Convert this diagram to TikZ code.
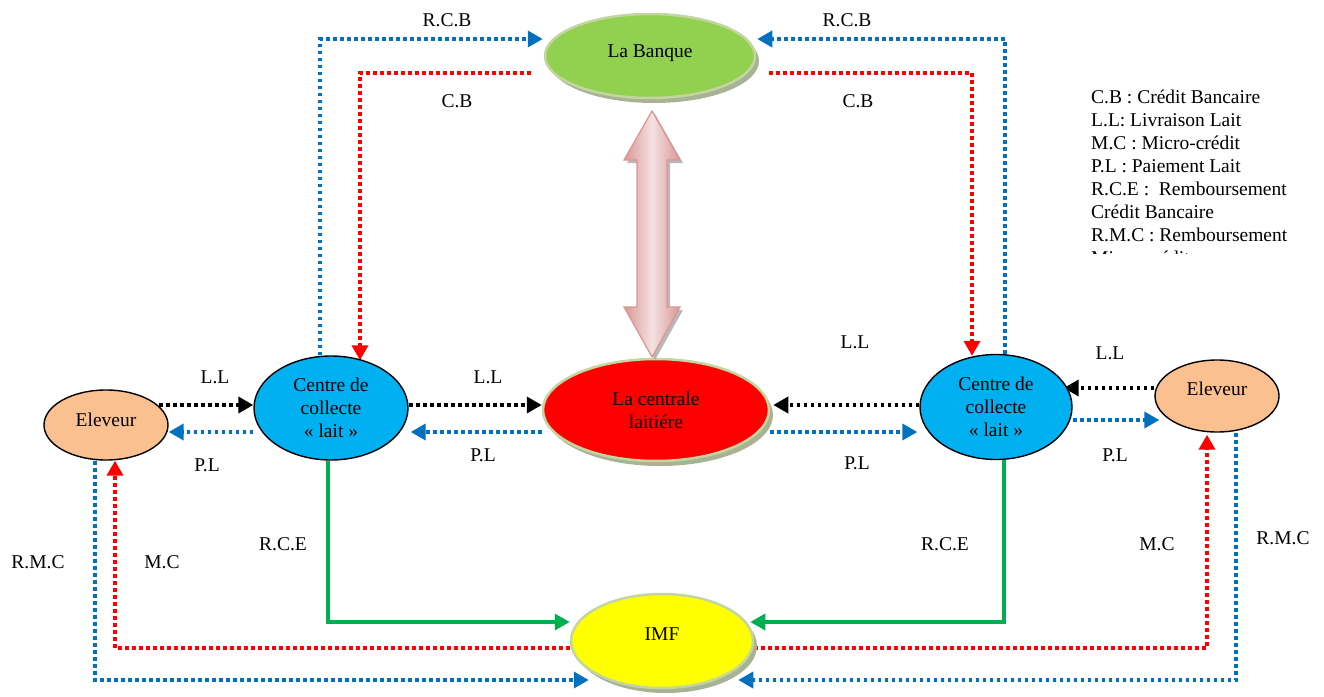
\documentclass[tikz,border=0pt]{standalone}
\usepackage{fontspec}
\setmainfont{Liberation Serif}
\usetikzlibrary{arrows.meta,shapes.geometric,calc,shadows}

\definecolor{flowBlue}{HTML}{0070C0}
\definecolor{flowRed}{HTML}{FF0000}
\definecolor{flowGreen}{HTML}{00B050}
\definecolor{cyanFill}{HTML}{00B0F0}
\definecolor{peachFill}{HTML}{FAC090}
\definecolor{leafFill}{HTML}{92D050}
\definecolor{yellowFill}{HTML}{FFFF00}
\definecolor{rimGreen}{HTML}{C4D6A0}
\definecolor{shadowOlive}{HTML}{A7B394}
\definecolor{pinkDark}{HTML}{D99694}
\definecolor{pinkLight}{HTML}{F4E2E1}

\pgfdeclarelayer{background}
\pgfsetlayers{background,main}

\tikzset{
  txt/.style={font=\fontsize{19.5}{23}\selectfont, inner sep=0pt},
  hub/.style={ellipse, txt, fill=#1, draw=rimGreen, line width=2.5pt,
    drop shadow={shadow xshift=4pt, shadow yshift=-5pt, fill=shadowOlive, opacity=1}},
  actor/.style={ellipse, txt, fill=#1, draw=black, line width=1.4pt, align=center},
  tip/.style={-{Triangle[length=15pt,width=16pt]}},
  dotflow/.style={tip, line width=3.6pt, dash pattern=on 3.8pt off 3.2pt, draw=#1, #1},
  solidflow/.style={tip, line width=3.4pt, draw=#1, #1},
  lbl/.style={txt},
  legline/.style={txt, anchor=base west}
}

\begin{document}
\begin{tikzpicture}[x=1pt, y=-1pt]
  \useasboundingbox (0,0) rectangle (1324,696);

  % ---- nodes ----
  \node[hub=leafFill, minimum width=210pt, minimum height=84pt, text depth=10pt] (bank) at (650,56) {La Banque};
  \node[hub=flowRed, minimum width=226pt, minimum height=102pt, align=center] (cl) at (656,410) {La centrale\\laitiére};
  \node[hub=yellowFill, minimum width=182pt, minimum height=94pt, text depth=14pt] (imf) at (662,641) {IMF};

  \node[actor=cyanFill, minimum width=154pt, minimum height=104pt] (lc) at (331,408) {Centre de\\collecte\\« lait »};
  \node[actor=cyanFill, minimum width=152pt, minimum height=105pt] (rc) at (996,407) {Centre de\\collecte\\« lait »};
  \node[actor=peachFill, minimum width=124pt, minimum height=70pt, text depth=10pt] (ele1) at (106,425) {Eleveur};
  \node[actor=peachFill, minimum width=124pt, minimum height=72pt, text depth=14pt] (ele2) at (1217,396) {Eleveur};

  % ---- double block arrow between the bank and the dairy ----
  \fill[black!35, opacity=.8, xshift=3pt, yshift=-3pt]
    (652,111) -- (680,160) -- (667,160) -- (667,307) -- (680,307) -- (652,357)
    -- (624,307) -- (637,307) -- (637,160) -- (624,160) -- cycle;
  \shade[left color=pinkDark, right color=pinkDark, middle color=pinkLight]
    (652,111) -- (680,160) -- (667,160) -- (667,307) -- (680,307) -- (652,357)
    -- (624,307) -- (637,307) -- (637,160) -- (624,160) -- cycle;
  \draw[pinkDark, line width=1.2pt, line join=miter]
    (652,111) -- (680,160) -- (667,160) -- (667,307) -- (680,307) -- (652,357)
    -- (624,307) -- (637,307) -- (637,160) -- (624,160) -- cycle;

  % ---- flows ----
  \begin{pgfonlayer}{background}
    % bank credit and its repayment
    \draw[dotflow=flowBlue] (lc.north -| 320,0) |- ([xshift=-1pt]bank.west |- 0,39);
    \draw[dotflow=flowBlue] (rc.north -| 1005,0) |- ([xshift=1pt]bank.east |- 0,39);
    \draw[dotflow=flowRed] ([xshift=-13pt]bank.west |- 0,73) -| ($(lc.north)+(29,5)$);
    \draw[dotflow=flowRed] ([xshift=13pt]bank.east |- 0,73) -| ($(rc.north)+(-24,2)$);
    % milk delivery and milk payment
    \draw[dotflow=black] ([xshift=-10pt]ele1.east |- 0,405) -- (lc.west |- 0,405);
    \draw[dotflow=flowBlue] (lc.west |- 0,432) -- (ele1.east |- 0,432);
    \draw[dotflow=black] (lc.east |- 0,405) -- (cl.west |- 0,405);
    \draw[dotflow=flowBlue] (cl.west |- 0,432) -- ([xshift=2pt]lc.east |- 0,432);
    \draw[dotflow=black] (rc.west |- 0,405) -- ([xshift=3pt]cl.east |- 0,405);
    \draw[dotflow=flowBlue] (cl.east |- 0,432) -- ([xshift=-2pt]rc.west |- 0,432);
    \draw[dotflow=black] (ele2.west |- 0,388) -- ([xshift=-9pt]rc.east |- 0,388);
    \draw[dotflow=flowBlue] (rc.east |- 0,420) -- ([xshift=5pt]ele2.west |- 0,420);
    % repayment of credit to the IMF
    \draw[solidflow=flowGreen] (lc.south -| 328,0) |- (imf.west |- 0,622);
    \draw[solidflow=flowGreen] (rc.south -| 1004,0) |- ([xshift=-4pt]imf.east |- 0,622);
    % micro-credit and its repayment
    \draw[dotflow=flowRed] (imf.west |- 0,648) -| (ele1.south -| 115,0);
    \draw[dotflow=flowBlue] (ele1.south -| 95,0) |- ([xshift=19pt]imf.west |- 0,680);
    \draw[dotflow=flowRed] (imf.east |- 0,648) -| ([yshift=-2pt]ele2.south -| 1207,0);
    \draw[dotflow=flowBlue] (ele2.south -| 1236,0) |- ([xshift=-16pt]imf.east |- 0,680);
  \end{pgfonlayer}

  % ---- flow labels ----
  \node[lbl] (tRCBl) at (447,20) {R.C.B};
  \node[lbl] (tRCBr) at (847,20) {R.C.B};
  \node[lbl] (tCBl) at (457,101) {C.B};
  \node[lbl] (tCBr) at (858,101) {C.B};
  \node[lbl] (tLL1) at (215,377) {L.L};
  \node[lbl] (tPL1) at (207,465) {P.L};
  \node[lbl] (tLL2) at (488,377) {L.L};
  \node[lbl] (tPL2) at (483,455) {P.L};
  \node[lbl] (tLL3) at (855,342) {L.L};
  \node[lbl] (tPL3) at (857,463) {P.L};
  \node[lbl] (tLL4) at (1110,353) {L.L};
  \node[lbl] (tPL4) at (1115,455) {P.L};
  \node[lbl] (tRCEl) at (283,544) {R.C.E};
  \node[lbl] (tRCEr) at (945,544) {R.C.E};
  \node[lbl] (tMCl) at (162,562) {M.C};
  \node[lbl] (tRMCl) at (38,562) {R.M.C};
  \node[lbl] (tMCr) at (1157,544) {M.C};
  \node[lbl] (tRMCr) at (1283,538) {R.M.C};

  % ---- legend (text box cut at its lower edge) ----
  \begin{scope}
    \clip (1070,70) rectangle (1324,253);
    \node[legline] (leg1) at (1091,103) {C.B : Crédit Bancaire};
    \node[legline] (leg2) at (1091,126) {L.L: Livraison Lait};
    \node[legline] (leg3) at (1091,149) {M.C : Micro-crédit};
    \node[legline] (leg4) at (1091,172) {P.L : Paiement Lait};
    \node[legline] (leg5) at (1091,195) {R.C.E :\ \ Remboursement};
    \node[legline] (leg6) at (1091,218) {Crédit Bancaire};
    \node[legline] (leg7) at (1091,241) {R.M.C : Remboursement};
    \node[legline] (leg8) at (1091,264) {Micro-crédit};
  \end{scope}
\end{tikzpicture}
\end{document}
